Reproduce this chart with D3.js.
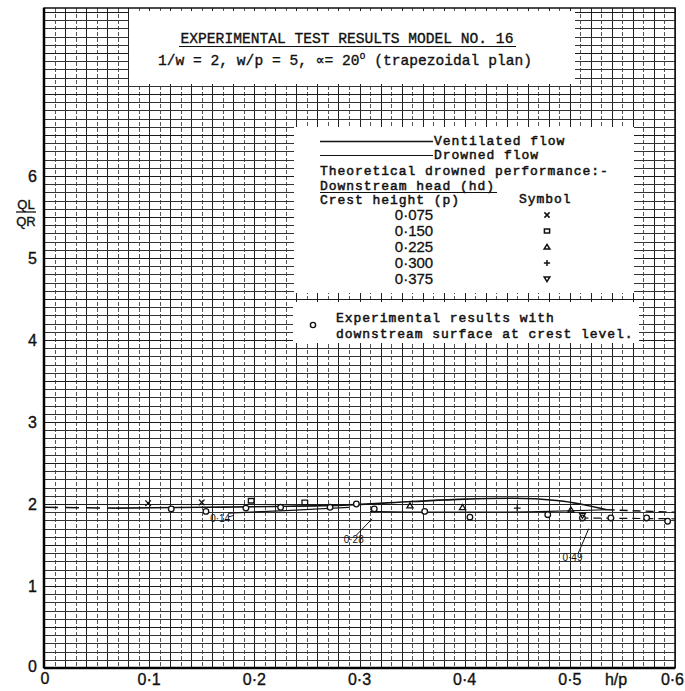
<!DOCTYPE html>
<html>
<head>
<meta charset="utf-8">
<script src="https://cdn.jsdelivr.net/npm/d3@7"></script>
<style>
  body { margin: 0; background: #fff; }
  svg text { fill: #111; }
</style>
</head>
<body>
<svg id="chart" width="685" height="691"></svg>
<script>
// ---- axis ticks ----
const xTicks = [0, 0.1, 0.2, 0.3, 0.4, 0.5, 0.6];
const xTickLabels = ["0", "0·1", "0·2", "0·3", "0·4", "0·5", "0·6"];
const yTicks = [0, 1, 2, 3, 4, 5, 6];
const yTickLabels = ["0", "1", "2", "3", "4", "5", "6"];

// ---- curves (h/p vs QL/QR) ----
const leadInH = [0.0, 0.068];          // dashed lead-in at low head
const leadInQ = [1.96, 1.95];
const ventilatedH = [0.068, 0.15, 0.22, 0.29, 0.35, 0.40, 0.445, 0.49, 0.535];
const ventilatedQ = [1.95, 1.96, 1.97, 1.99, 2.03, 2.06, 2.07, 2.04, 1.93];
const ventilatedTailH = [0.535, 0.60];
const ventilatedTailQ = [1.93, 1.90];
const drownedAH = [0.175, 0.23, 0.29];
const drownedAQ = [1.89, 1.92, 1.96];
const drownedBH = [0.31, 0.36, 0.42, 0.48, 0.535];
const drownedBQ = [1.91, 1.90, 1.90, 1.91, 1.93];
const lowTailH = [0.51, 0.60];
const lowTailQ = [1.83, 1.82];

// ---- experimental points, downstream surface at crest level ----
const circleH = [0.121, 0.154, 0.192, 0.225, 0.272, 0.297, 0.314, 0.362, 0.405, 0.479, 0.512, 0.539, 0.573, 0.593];
const circleQ = [1.94, 1.91, 1.95, 1.96, 1.96, 2.00, 1.94, 1.91, 1.84, 1.87, 1.83, 1.83, 1.83, 1.79];

// ---- theoretical drowned performance points ----
const crestHeights = ["0·075", "0·150", "0·225", "0·300", "0·375"];
const symbolKinds = ["times", "square", "triangle", "plus", "down"];
const theoryKind = ["times", "times", "square", "square", "triangle", "triangle", "plus", "triangle", "down"];
const theoryH = [0.099, 0.150, 0.197, 0.248, 0.348, 0.398, 0.450, 0.501, 0.512];
const theoryQ = [2.01, 2.02, 2.04, 2.02, 1.98, 1.96, 1.95, 1.93, 1.86];

// ---- value notes on the curves ----
const noteText = ["0·14", "0·28", "0·49"];
const noteH = [0.158, 0.285, 0.493];
const noteQ = [1.78, 1.53, 1.31];
const leaderH1 = [0.175, 0.297, 0.508];
const leaderQ1 = [1.84, 1.62, 1.40];
const leaderH2 = [0.18, 0.312, 0.518];
const leaderQ2 = [1.86, 1.82, 1.70];

const svg = d3.select("#chart");
const x = d3.scaleLinear().domain([0, 0.6]).range([44, 675]);
const y = d3.scaleLinear().domain([0, 8.05]).range([668, 8]);
const crisp = v => Math.round(v) + 0.5;

// ---- graph paper ----
const grid = svg.append("g").attr("shape-rendering", "crispEdges");
const vLines = d3.range(0, 61).map(i => i / 100);
grid.selectAll("line.v").data(vLines).join("line")
  .attr("x1", d => crisp(x(d))).attr("x2", d => crisp(x(d)))
  .attr("y1", y(8.05)).attr("y2", y(0))
  .attr("stroke", (d, i) => i % 2 === 0 ? "#222" : "#555")
  .attr("stroke-width", 1)
  .attr("stroke-dasharray", (d, i) => i % 2 === 0 ? null : "4,2");
const hLines = d3.range(0, 81).map(i => i / 10);
grid.selectAll("line.h").data(hLines).join("line")
  .attr("x1", x(0)).attr("x2", x(0.6))
  .attr("y1", d => crisp(y(d))).attr("y2", d => crisp(y(d)))
  .attr("stroke", (d, i) => i % 5 === 0 ? "#1a1a1a" : "#333")
  .attr("stroke-width", (d, i) => i % 10 === 0 ? 1.6 : 1);

// frame
svg.append("rect").attr("x", x(0)).attr("y", y(8.05))
  .attr("width", x(0.6) - x(0)).attr("height", y(0) - y(8.05))
  .attr("fill", "none").attr("stroke", "#111").attr("stroke-width", 1.5);
svg.append("line").attr("x1", x(0)).attr("x2", x(0)).attr("y1", y(8.05)).attr("y2", y(0))
  .attr("stroke", "#000").attr("stroke-width", 2.5);
svg.append("line").attr("x1", x(0)).attr("x2", x(0.6)).attr("y1", y(0)).attr("y2", y(0))
  .attr("stroke", "#000").attr("stroke-width", 2.5);

// ---- title panel ----
svg.append("rect").attr("x", 129).attr("y", 11).attr("width", 446).attr("height", 73).attr("fill", "#fff");
const mono = "'Liberation Mono', 'DejaVu Sans Mono', monospace";
svg.append("text").attr("x", 347).attr("y", 43).attr("text-anchor", "middle")
  .style("font-family", mono).style("font-size", "14.6px")
  .style("stroke", "#111").style("stroke-width", 0.35)
  .text("EXPERIMENTAL TEST RESULTS MODEL NO. 16");
svg.append("line").attr("x1", 179).attr("x2", 516).attr("y1", 46.5).attr("y2", 46.5).attr("stroke", "#111").attr("stroke-width", 1);
const t2 = svg.append("text").attr("x", 345).attr("y", 65).attr("text-anchor", "middle")
  .style("font-family", mono).style("font-size", "14.6px")
  .style("stroke", "#111").style("stroke-width", 0.35);
t2.append("tspan").text("1/w = 2, w/p = 5, \u221D= 20");
t2.append("tspan").attr("dy", -6).style("font-size", "10px").text("o");
t2.append("tspan").attr("dy", 6).text(" (trapezoidal plan)");

// ---- legend panels ----
svg.append("rect").attr("x", 294).attr("y", 127).attr("width", 340).attr("height", 166).attr("fill", "#fff");
svg.append("rect").attr("x", 293).attr("y", 302).attr("width", 346).attr("height", 41).attr("fill", "#fff");

const lg = svg.append("g").style("font-family", mono).style("font-size", "13px")
  .style("letter-spacing", "0.95px").style("stroke", "#111").style("stroke-width", 0.5);
lg.append("line").attr("x1", 320).attr("x2", 433).attr("y1", 141.5).attr("y2", 141.5).attr("stroke", "#111").attr("stroke-width", 1.6);
lg.append("text").attr("x", 434).attr("y", 145).text("Ventilated flow");
lg.append("line").attr("x1", 320).attr("x2", 433).attr("y1", 155.5).attr("y2", 155.5).attr("stroke", "#111").attr("stroke-width", 1.2);
lg.append("text").attr("x", 434).attr("y", 159).text("Drowned flow");
lg.append("text").attr("x", 320).attr("y", 175).text("Theoretical drowned performance:-");
lg.append("text").attr("x", 320).attr("y", 189.5).text("Downstream head (hd)");
lg.append("line").attr("x1", 320).attr("x2", 497).attr("y1", 192.5).attr("y2", 192.5).attr("stroke", "#111").attr("stroke-width", 1.2);
lg.append("text").attr("x", 320).attr("y", 203.5).text("Crest height (p)");
lg.append("text").attr("x", 519).attr("y", 202.5).text("Symbol");

const sans = "'Liberation Sans', Arial, sans-serif";
const rowY = [220, 236, 252, 268, 284];
svg.append("g").selectAll("text").data(crestHeights).join("text")
  .attr("x", 414).attr("y", (d, i) => rowY[i]).attr("text-anchor", "middle")
  .style("font-family", sans).style("font-size", "15px")
  .style("stroke", "#111").style("stroke-width", 0.3)
  .text(d => d);

function symbolPath(kind, size) {
  const s = size;
  if (kind === "times") return `M${-s},${-s}L${s},${s}M${-s},${s}L${s},${-s}`;
  if (kind === "plus") return `M${-s * 1.2},0L${s * 1.2},0M0,${-s * 1.2}L0,${s * 1.2}`;
  if (kind === "square") return `M${-s},${-s * 0.8}H${s}V${s * 0.8}H${-s}Z`;
  if (kind === "triangle") return `M0,${-s}L${s * 1.1},${s * 0.8}H${-s * 1.1}Z`;
  if (kind === "down") return `M${-s * 1.1},${-s * 0.8}H${s * 1.1}L0,${s}Z`;
  return "";
}
svg.append("g").selectAll("path").data(symbolKinds).join("path")
  .attr("transform", (d, i) => `translate(547,${rowY[i] - 5})`)
  .attr("d", d => symbolPath(d, 2.6))
  .attr("fill", "none").attr("stroke", "#111").attr("stroke-width", 1.5);

svg.append("circle").attr("cx", 313).attr("cy", 325).attr("r", 2.6)
  .attr("fill", "none").attr("stroke", "#111").attr("stroke-width", 1.4);
lg.append("text").attr("x", 336).attr("y", 321.5).text("Experimental results with");
lg.append("text").attr("x", 336).attr("y", 337.5).text("downstream surface at crest level.");

// ---- axis labels ----
const ax = svg.append("g").style("font-family", sans).style("font-size", "16px")
  .style("stroke", "#111").style("stroke-width", 0.35);
ax.selectAll("text.y").data(yTicks.slice(1)).join("text")
  .attr("x", 37).attr("y", d => y(d) + 6).attr("text-anchor", "end")
  .text((d, i) => yTickLabels[i + 1]);
ax.append("text").attr("x", 37).attr("y", 672).attr("text-anchor", "end").text(yTickLabels[0]);
ax.selectAll("text.x").data(xTicks.slice(1, 6)).join("text")
  .attr("x", d => x(d)).attr("y", 685).attr("text-anchor", "middle")
  .text((d, i) => xTickLabels[i + 1]);
ax.append("text").attr("x", 684).attr("y", 685).attr("text-anchor", "end").text(xTickLabels[6]);
ax.append("text").attr("x", x(0) + 1).attr("y", 684).attr("text-anchor", "middle").text(xTickLabels[0]);
ax.append("text").attr("x", 616).attr("y", 685).attr("text-anchor", "middle").text("h/\u0070");
ax.append("text").attr("x", 26).attr("y", 209).attr("text-anchor", "middle").style("font-size", "13px").text("QL");
ax.append("line").attr("x1", 16).attr("x2", 36).attr("y1", 212).attr("y2", 212).attr("stroke", "#111").attr("stroke-width", 1.3);
ax.append("text").attr("x", 26).attr("y", 226).attr("text-anchor", "middle").style("font-size", "13px").text("QR");

// ---- curves ----
const line = d3.line().x(d => x(d[0])).y(d => y(d[1])).curve(d3.curveMonotoneX);
const zip = (a, b) => a.map((v, i) => [v, b[i]]);
const curves = svg.append("g").attr("fill", "none").attr("stroke", "#111");
curves.append("path").attr("d", line(zip(leadInH, leadInQ))).attr("stroke-width", 1.6).attr("stroke-dasharray", "14,7");
curves.append("path").attr("d", line(zip(ventilatedH, ventilatedQ))).attr("stroke-width", 1.6);
curves.append("path").attr("d", line(zip(ventilatedTailH, ventilatedTailQ))).attr("stroke-width", 1.4).attr("stroke-dasharray", "8,5");
curves.append("path").attr("d", line(zip(drownedAH, drownedAQ))).attr("stroke-width", 1.2);
curves.append("path").attr("d", line(zip(drownedBH, drownedBQ))).attr("stroke-width", 1.2);
curves.append("path").attr("d", line(zip(lowTailH, lowTailQ))).attr("stroke-width", 1.2).attr("stroke-dasharray", "8,5");

// experimental circles
svg.append("g").selectAll("circle").data(zip(circleH, circleQ)).join("circle")
  .attr("cx", d => x(d[0])).attr("cy", d => y(d[1])).attr("r", 2.8)
  .attr("fill", "#fff").attr("stroke", "#111").attr("stroke-width", 1.3);

// theoretical symbols
svg.append("g").selectAll("path").data(theoryH.map((h, i) => ({ h, q: theoryQ[i], k: theoryKind[i] }))).join("path")
  .attr("transform", d => `translate(${x(d.h)},${y(d.q)})`)
  .attr("d", d => symbolPath(d.k, 2.8))
  .attr("fill", "none").attr("stroke", "#111").attr("stroke-width", 1.3);

// notes
const notes = svg.append("g").style("font-family", sans).style("font-size", "10px");
notes.selectAll("text").data(noteText).join("text")
  .attr("x", (d, i) => x(noteH[i])).attr("y", (d, i) => y(noteQ[i]))
  .text(d => d);
notes.selectAll("line").data(noteText).join("line")
  .attr("x1", (d, i) => x(leaderH1[i])).attr("y1", (d, i) => y(leaderQ1[i]))
  .attr("x2", (d, i) => x(leaderH2[i])).attr("y2", (d, i) => y(leaderQ2[i]))
  .attr("stroke", "#111").attr("stroke-width", 1);
</script>
</body>
</html>
